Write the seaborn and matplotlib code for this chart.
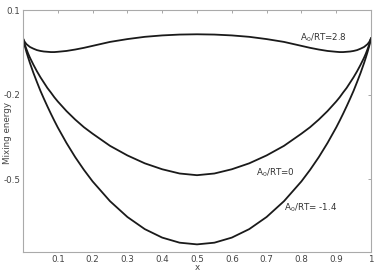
import matplotlib
matplotlib.use("Agg")
import matplotlib.pyplot as plt
import seaborn as sns
import pandas as pd

# x positions (left half; right half mirrors)
x_half = [0.0, 0.002, 0.005, 0.01, 0.015, 0.02, 0.03, 0.04, 0.05, 0.06, 0.07, 0.08, 0.09, 0.1,
          0.125, 0.15, 0.175, 0.2, 0.25, 0.3, 0.35, 0.4, 0.45, 0.5]
e_28 = [0.0, -0.006, -0.013, -0.021, -0.026, -0.031, -0.037, -0.042, -0.045, -0.047, -0.048, -0.049, -0.049, -0.048,
        -0.045, -0.040, -0.034, -0.027, -0.013, -0.003, 0.005, 0.010, 0.013, 0.014]
e_0 = [0.0, -0.010, -0.022, -0.039, -0.055, -0.069, -0.094, -0.117, -0.138, -0.157, -0.176, -0.192, -0.209, -0.224,
       -0.258, -0.288, -0.315, -0.338, -0.381, -0.415, -0.443, -0.464, -0.479, -0.485]
e_m14 = [0.0, -0.012, -0.027, -0.049, -0.069, -0.088, -0.123, -0.155, -0.186, -0.214, -0.241, -0.267, -0.292, -0.316,
         -0.371, -0.421, -0.466, -0.507, -0.577, -0.633, -0.676, -0.706, -0.724, -0.730]

labels = ["A$_0$/RT=2.8", "A$_0$/RT=0", "A$_0$/RT= -1.4"]
label_pos = [(0.862, 0.001), (0.724, -0.478), (0.825, -0.600)]
x_ticks = [0.1, 0.2, 0.3, 0.4, 0.5, 0.6, 0.7, 0.8, 0.9, 1]
x_tick_labels = ["0.1", "0.2", "0.3", "0.4", "0.5", "0.6", "0.7", "0.8", "0.9", "1"]
y_ticks = [0.1, -0.2, -0.5]
y_tick_labels = ["0.1", "-0.2", "-0.5"]


def full(xs, ys):
    xx = list(xs) + [1 - v for v in reversed(xs[:-1])]
    yy = list(ys) + list(reversed(ys[:-1]))
    return xx, yy

rows = []
for lab, ys in zip(labels, [e_28, e_0, e_m14]):
    xx, yy = full(x_half, ys)
    for a, b in zip(xx, yy):
        rows.append({"x": a, "E": b, "series": lab})
df = pd.DataFrame(rows)

sns.set_style("white")
plt.rcParams['font.family'] = ['DejaVu Sans']

fig = plt.figure(figsize=(3.75, 2.72), dpi=100)
ax = fig.add_axes([23/375, 20/272, (371-23)/375, (252-10)/272])

sns.lineplot(data=df, x="x", y="E", units="series", estimator=None, sort=False,
             color="#1a1a1a", linewidth=1.3, ax=ax, legend=False)

ax.set_xlim(0, 1)
ax.set_ylim(-0.757, 0.1)
ax.set_xticks(x_ticks)
ax.set_xticklabels(x_tick_labels)
ax.set_yticks(y_ticks)
ax.set_yticklabels(y_tick_labels)
ax.tick_params(direction="in", length=2.5, width=0.6, color="#999999",
               labelsize=6.3, labelcolor="#444444", top=True, right=True, pad=2)
for s in ax.spines.values():
    s.set_color("#aaaaaa")
    s.set_linewidth(0.8)

ax.set_xlabel("")
ax.set_ylabel("")
fig.text(197/375, 1 - 268/272, "x", fontsize=6.3, color="#444444", ha="center", va="center")
fig.text(8/375, 1 - 133/272, "Mixing energy", fontsize=6.3, color="#444444",
         ha="center", va="center", rotation=90)

for lab, (tx, ty) in zip(labels, label_pos):
    ax.text(tx, ty, lab, fontsize=6.3, color="#333333", ha="center", va="center")

fig.savefig("out.png", dpi=100)
